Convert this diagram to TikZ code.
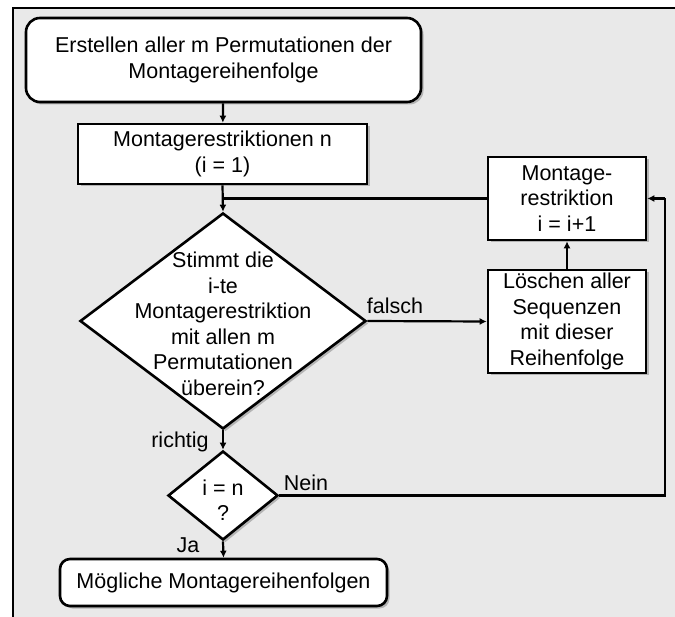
\documentclass[tikz,border=0pt]{standalone}
\usepackage{fontspec}
\setmainfont{Liberation Sans}
\usetikzlibrary{shapes.geometric,shadows,arrows.meta}
\definecolor{panel}{RGB}{233,233,233}
\begin{document}
\begin{tikzpicture}[x=1pt,y=-1pt,
  every node/.style={font=\fontsize{21.5}{25.5}\selectfont},
  shade/.style={drop shadow={shadow xshift=2.5pt,shadow yshift=-2.5pt,fill=black!50}},
  stepbox/.style={draw,line width=2.6pt,fill=white,inner sep=0pt,align=center,shade},
  termbox/.style={stepbox,rounded corners=14pt},
  decide/.style={diamond,draw,line width=2.6pt,fill=white,inner sep=0pt,shade},
  flow/.style={line width=2.2pt,-{Latex[length=7pt,width=7pt]}},
  line/.style={line width=2.2pt},
  lbl/.style={inner sep=0pt}
]
\useasboundingbox (0,0) rectangle (675,617);
% panel with its frame
\fill[panel] (13,8) rectangle (675,617);
\draw[line width=1.8pt] (13,617) -- (13,8) -- (675,8);

% nodes
\node[termbox,minimum width=395pt,minimum height=84pt] (start) at (223.5,60)
  {Erstellen aller m Permutationen der\\Montagereihenfolge};
\node[stepbox,minimum width=289pt,minimum height=60pt] (init) at (222.5,154)
  {Montagerestriktionen n\\(i = 1)};
\node[decide,minimum width=286pt,minimum height=216pt] (check) at (223,321) {};
\node[lbl,align=center] (checktext) at (223,324)
  {Stimmt die\\i-te\\Montagerestriktion\\mit allen m\\Permutationen\\überein?};
\node[stepbox,minimum width=158pt,minimum height=83pt] (next) at (567,198.5)
  {Montage-\\restriktion\\i = i+1};
\node[stepbox,minimum width=158pt,minimum height=103pt] (drop) at (567,321.5)
  {Löschen aller\\Sequenzen\\mit dieser\\Reihenfolge};
\node[decide,minimum width=110pt,minimum height=89pt] (last) at (223,495.5) {};
\node[lbl,align=center] (lasttext) at (223,500) {i = n\\?};
\node[termbox,rounded corners=10pt,minimum width=327pt,minimum height=47pt] (result) at (223.5,582.5)
  {Mögliche Montagereihenfolgen};

% connectors
\coordinate (join) at (223,198.5);
\coordinate (loopA) at (665,495.5);
\coordinate (loopB) at (665,198.5);
\draw[flow] (start) -- (init);
\draw[flow] (init.south) -- (check.north);
\draw[line] (next.west) -- (join);
\draw[flow] (check.east) -- (drop.west);
\draw[flow] (drop.north) -- (next.south);
\draw[flow] (check.south) -- (last.north);
\draw[line] (last.east) -- (loopA) -- (loopB);
\draw[flow] (loopB) -- (next.east);
\draw[flow] (last.south) -- (result.north);

% branch labels
\node[lbl] (lfalse) at (395,306) {falsch};
\node[lbl] (ltrue) at (180,442) {richtig};
\node[lbl] (lno) at (306,483) {Nein};
\node[lbl] (lyes) at (188,545) {Ja};
\end{tikzpicture}
\end{document}
